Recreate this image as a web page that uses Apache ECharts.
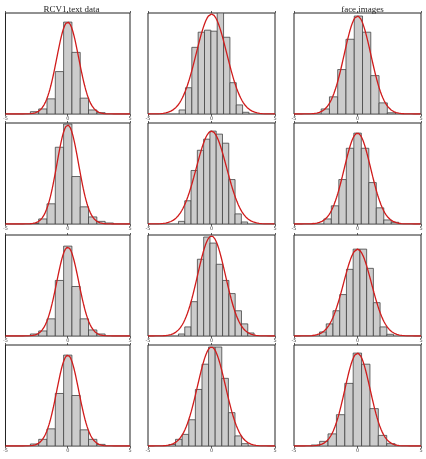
<!DOCTYPE html>
<html>
<head>
<meta charset="utf-8">
<script src="https://cdn.jsdelivr.net/npm/echarts@6/dist/echarts.min.js"></script>
<style>
    html, body { margin: 0; padding: 0; background: #fff; }
    #main { width: 426px; height: 459px; }
</style>
</head>
<body>
<div id="main"></div>
<script>
    // panels are row-major: row1 col1, row1 col2, row1 col3, row2 col1 ...
    var colTitles = ['RCV1 text data', '', 'face images'];
    var xTicks = [-5, 0, 5];

    // left edge of the first bin and bin width, per panel
    var binStart = [-3, -2.55, -2.86, -3, -2.6, -2.65, -3, -2.6, -2.99, -3, -3.35, -3.64];
    var binWidth = [0.667, 0.5, 0.651, 0.667, 0.495, 0.59, 0.667, 0.496, 0.53, 0.667, 0.52, 0.66];

    // bin heights (share of panel height)
    var binHeights = [
        [0.023, 0.05, 0.15, 0.42, 0.91, 0.61, 0.157, 0.04, 0.013],
        [0.04, 0.26, 0.66, 0.81, 0.83, 0.82, 1.0, 0.76, 0.31, 0.09, 0.017],
        [0.05, 0.17, 0.44, 0.74, 0.97, 0.81, 0.38, 0.11, 0.012],
        [0.005, 0.05, 0.2, 0.76, 0.99, 0.47, 0.17, 0.07, 0.026, 0.01],
        [0.026, 0.23, 0.53, 0.73, 0.84, 0.92, 0.89, 0.80, 0.44, 0.10, 0.02],
        [0.05, 0.18, 0.44, 0.75, 0.90, 0.75, 0.41, 0.16, 0.04, 0.017],
        [0.02, 0.05, 0.17, 0.55, 0.89, 0.49, 0.17, 0.06, 0.02],
        [0.02, 0.09, 0.34, 0.76, 0.98, 0.92, 0.71, 0.55, 0.42, 0.25, 0.12, 0.03],
        [0.04, 0.12, 0.25, 0.41, 0.66, 0.86, 0.86, 0.67, 0.33, 0.09, 0.017],
        [0.02, 0.066, 0.17, 0.52, 0.90, 0.5, 0.16, 0.066, 0.016],
        [0.015, 0.066, 0.115, 0.26, 0.56, 0.81, 0.98, 0.98, 0.67, 0.33, 0.1, 0.023],
        [0.01, 0.046, 0.12, 0.31, 0.62, 0.92, 0.81, 0.37, 0.105, 0.023]
    ];

    // fitted normal curve: peak height and sigma, per panel
    var fitPeak = [0.91, 0.99, 0.97, 0.98, 0.92, 0.90, 0.88, 0.99, 0.86, 0.90, 0.98, 0.92];
    var fitSigma = [0.885, 1.2, 1.05, 0.87, 1.19, 1.05, 0.885, 1.1, 1.1, 0.885, 1.1, 1.0];

    var colLeft = [3, 148, 294];
    var rowTop = [13, 123, 235, 345];
    var panelW = 127, panelH = 101;

    var grid = [], xAxis = [], yAxis = [], series = [], title = [];

    colTitles.forEach(function (t, c) {
        if (!t) return;
        title.push({
            text: t,
            left: colLeft[c] + panelW / 2,
            top: 0,
            textAlign: 'center',
            textStyle: { fontFamily: 'Liberation Serif', fontSize: 9, fontWeight: 'normal', color: '#222' }
        });
    });

    for (var p = 0; p < 12; p++) {
        var r = Math.floor(p / 3), c = p % 3;
        grid.push({
            left: colLeft[c], top: rowTop[r], width: panelW, height: panelH,
            show: true, borderColor: '#222', borderWidth: 1, backgroundColor: '#fff'
        });
        // bottom axis with labels
        xAxis.push({
            gridIndex: p, type: 'value', min: -5, max: 5, interval: 5, position: 'bottom',
            axisLine: { show: false },
            axisTick: { show: true, length: 2, lineStyle: { color: '#333', width: 0.8 } },
            axisLabel: { fontSize: 5, color: '#444', margin: 2, fontFamily: 'DejaVu Sans' },
            splitLine: { show: false }
        });
        // top axis, ticks only
        xAxis.push({
            gridIndex: p, type: 'value', min: -5, max: 5, interval: 5, position: 'top',
            axisLine: { show: false },
            axisTick: { show: true, length: 2, lineStyle: { color: '#333', width: 0.8 } },
            axisLabel: { show: false },
            splitLine: { show: false }
        });
        yAxis.push({
            gridIndex: p, type: 'value', min: 0, max: 1, show: false, splitLine: { show: false }
        });

        var bins = binHeights[p].map(function (h, i) {
            var x0 = binStart[p] + i * binWidth[p];
            return [x0, x0 + binWidth[p], h];
        });
        series.push({
            type: 'custom',
            xAxisIndex: p * 2, yAxisIndex: p,
            clip: true,
            silent: true,
            data: bins,
            renderItem: function (params, api) {
                var a = api.coord([api.value(0), api.value(2)]);
                var b = api.coord([api.value(1), 0]);
                return {
                    type: 'rect',
                    shape: { x: a[0], y: a[1], width: b[0] - a[0], height: b[1] - a[1] },
                    style: { fill: '#cccccc', stroke: '#444', lineWidth: 0.8 }
                };
            },
            z: 2
        });

        var curve = [];
        for (var k = 0; k <= 200; k++) {
            var x = -5 + k * 0.05;
            curve.push([x, fitPeak[p] * Math.exp(-x * x / (2 * fitSigma[p] * fitSigma[p]))]);
        }
        series.push({
            type: 'line',
            xAxisIndex: p * 2, yAxisIndex: p,
            data: curve,
            showSymbol: false,
            silent: true,
            lineStyle: { color: '#d01c1c', width: 1.3 },
            z: 3
        });
    }

    var chart = echarts.init(document.getElementById('main'), null, { renderer: 'canvas' });
    chart.setOption({
        animation: false,
        backgroundColor: '#fff',
        title: title,
        grid: grid,
        xAxis: xAxis,
        yAxis: yAxis,
        series: series
    });
</script>
</body>
</html>
